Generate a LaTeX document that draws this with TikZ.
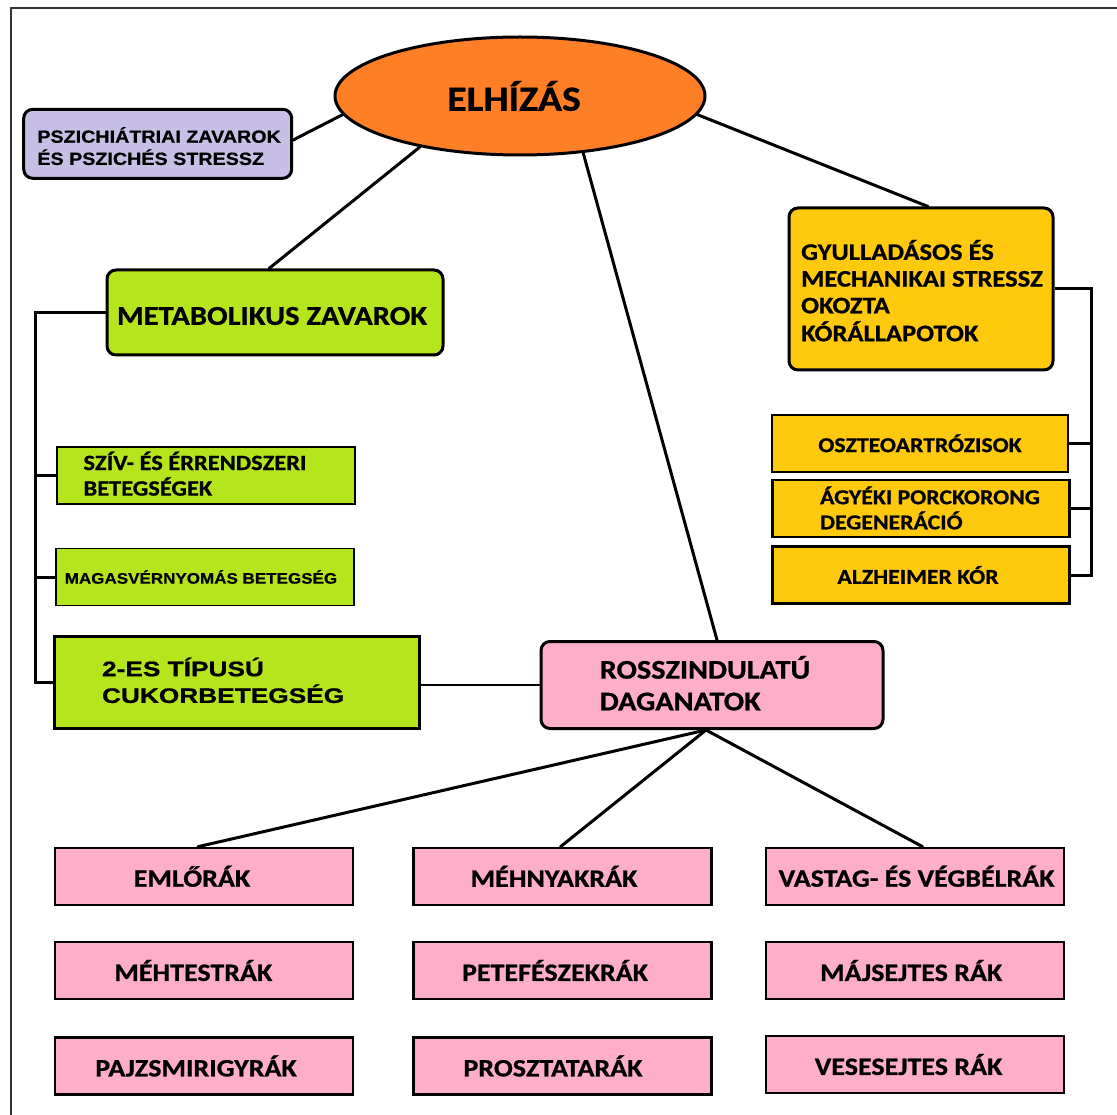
\documentclass[tikz,border=0pt]{standalone}
\usepackage{fontspec}
\usetikzlibrary{shapes.geometric,backgrounds}
\newfontfamily\calb[FakeStretch=1.12,FakeBold=0.8]{Carlito}
\newfontfamily\arb[FakeStretch=1.12,FakeBold=0.6]{Liberation Sans}
\newfontfamily\arbw[FakeStretch=1.25,FakeBold=0.8]{Liberation Sans}
\definecolor{cOrange}{HTML}{FF7F27}
\definecolor{cLav}{HTML}{C8BFE7}
\definecolor{cGreen}{HTML}{B5E61D}
\definecolor{cYellow}{HTML}{FFC90E}
\definecolor{cPink}{HTML}{FFAEC9}
\definecolor{cFrame}{HTML}{333333}
\newcommand\tb[1]{\begin{tabular}{@{}l@{}}#1\end{tabular}}
\newcommand\sh[3]{\raisebox{#2}[\height][\depth]{\hspace*{#1}#3\hspace*{-#1}}}
\begin{document}
\begin{tikzpicture}[x=1pt,y=-1pt,
  base/.style={inner sep=0pt, text=black, draw=black},
  rbox/.style={base, rectangle, rounded corners=9pt, line width=3pt},
  sbox/.style={base, rectangle, line width=2.2pt},
  wh/.style 2 args={minimum width=#1pt, minimum height=#2pt},
  cal/.style 2 args={font=\calb\bfseries\fontsize{#1}{#2}\selectfont},
  ar/.style 2 args={font=\arb\bfseries\fontsize{#1}{#2}\selectfont},
  arw/.style 2 args={font=\arbw\bfseries\fontsize{#1}{#2}\selectfont},
  pink/.style={sbox, fill=cPink, wh={298}{57}, cal={25}{28}},
  ylw/.style={sbox, fill=cYellow, wh={297}{57}, cal={21.2}{24.3}},
  conn/.style={line width=3pt, line cap=round, line join=round},
  brk/.style={line width=3pt, line cap=butt, line join=miter}]
\useasboundingbox (0,0) rectangle (1117,1115);

% main nodes
\node[ellipse, base, line width=3pt, fill=cOrange, minimum width=370pt, minimum height=118pt, cal={35.5}{38}] (ell) at (520,96) {\sh{-6pt}{0pt}{ELHÍZÁS}};
\node[rbox, fill=cLav, wh={268}{69}, ar={17.6}{22}] (psy) at (157.7,143.8) {\sh{1.4pt}{-5.5pt}{\tb{PSZICHIÁTRIAI ZAVAROK\\ÉS PSZICHÉS STRESSZ}}};
\node[rbox, fill=cGreen, wh={336}{85}, cal={27.3}{30}] (met) at (275,312.5) {\sh{-3pt}{-3.5pt}{METABOLIKUS ZAVAROK}};
\node[rbox, fill=cYellow, wh={264}{162}, cal={23.7}{26.7}] (gyu) at (921,289) {\sh{1pt}{-5.6pt}{\tb{GYULLADÁSOS ÉS\\MECHANIKAI STRESSZ\\OKOZTA\\KÓRÁLLAPOTOK}}};
\node[rbox, fill=cPink, wh={342}{87}, cal={27}{31.7}] (ros) at (712,685) {\sh{-7pt}{-2.9pt}{\tb{ROSSZINDULATÚ\\DAGANATOK}}};

% metabolic group
\node[sbox, line width=1.8pt, fill=cGreen, wh={298}{57}, cal={21.8}{24.3}] (szv) at (206,475.3) {\sh{-11pt}{-2pt}{\tb{SZÍV- ÉS ÉRRENDSZERI\\BETEGSÉGEK}}};
\node[sbox, line width=1.8pt, fill=cGreen, wh={298}{57}, ar={15.2}{18}] (mag) at (205,577) {\sh{-4pt}{0pt}{MAGASVÉRNYOMÁS BETEGSÉG}};
\node[sbox, line width=3pt, fill=cGreen, wh={365}{91.6}, arw={21}{26.7}] (t2) at (236.6,682.5) {\sh{-13.5pt}{-1.7pt}{\tb{2-ES TÍPUSÚ\\CUKORBETEGSÉG}}};

% mechanical group
\node[ylw, wh={296}{56.7}] (ost) at (920,443.3) {OSZTEOARTRÓZISOK};
\node[ylw] (agy) at (921,508.7) {\sh{9pt}{-2.8pt}{\tb{ÁGYÉKI PORCKORONG\\DEGENERÁCIÓ}}};
\node[ylw] (alz) at (921,575) {\sh{-3pt}{0pt}{ALZHEIMER KÓR}};

% cancers
\node[pink] (em) at (204,876.3) {\sh{-12pt}{0pt}{EMLŐRÁK}};
\node[pink] (mt) at (204,970.5) {\sh{-10.7pt}{0pt}{MÉHTESTRÁK}};
\node[pink] (pj) at (204,1066) {\sh{-8pt}{0pt}{PAJZSMIRIGYRÁK}};
\node[pink] (mn) at (562.5,876.3) {\sh{-8.5pt}{0pt}{MÉHNYAKRÁK}};
\node[pink] (pf) at (562.5,970.5) {\sh{-7.5pt}{0pt}{PETEFÉSZEKRÁK}};
\node[pink] (pr) at (562.5,1066) {\sh{-9.5pt}{0pt}{PROSZTATARÁK}};
\node[pink] (vb) at (914.6,876.3) {\sh{2pt}{0pt}{VASTAG- ÉS VÉGBÉLRÁK}};
\node[pink] (mj) at (914.6,970.5) {\sh{-3.4pt}{0pt}{MÁJSEJTES RÁK}};
\node[pink] (vs) at (914.6,1064.5) {\sh{-6pt}{0pt}{VESESEJTES RÁK}};

\coordinate (lb) at (35.7,0);
\coordinate (rb) at (1091,0);

\begin{scope}[on background layer]
\fill[white] (0,0) rectangle (1117,1115);
\draw[cFrame, line width=2pt] (10.7,1120) -- (10.7,8) -- (1125,8);
\draw[conn] ([yshift=3.8pt]psy.east) -- (ell.186);
\draw[conn] (ell.207) -- ([xshift=-6pt]met.north);
\draw[conn] (ell.318) -- ([xshift=5pt]ros.north);
\draw[conn] (ell.354.5) -- ([xshift=7pt]gyu.north);
\draw[conn, line width=2.5pt] (t2.east |- ros.west) -- (ros.west);
\draw[brk] (met.west) -- (met.west -| lb) -- (t2.west -| lb) -- (t2.west);
\draw[brk] (szv.west -| lb) -- (szv.west);
\draw[brk] (mag.west -| lb) -- (mag.west);
\draw[brk] (gyu.east) -- (gyu.east -| rb) -- (alz.east -| rb) -- (alz.east);
\draw[brk] (ost.east) -- (ost.east -| rb);
\draw[brk] (agy.east) -- (agy.east -| rb);
\draw[conn] ([xshift=-6pt]ros.south) -- ([xshift=-6pt]em.north);
\draw[conn] ([xshift=-6pt]ros.south) -- ([xshift=-2pt]mn.north);
\draw[conn] ([xshift=-6pt]ros.south) -- ([xshift=8pt]vb.north);
\end{scope}
\end{tikzpicture}
\end{document}
